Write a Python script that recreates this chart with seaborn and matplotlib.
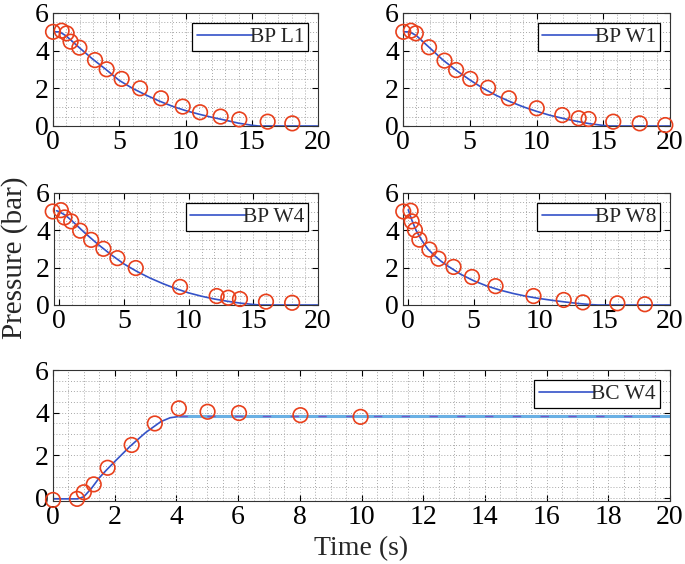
import numpy as np
import pandas as pd
import matplotlib
matplotlib.use("Agg")
import matplotlib.pyplot as plt
from matplotlib.ticker import MultipleLocator
import seaborn as sns

# ---------------- data ----------------
# BP L1
l1_sim_t = [0, 0.5, 1, 2, 3, 4, 5, 6, 7, 8, 9, 10, 11, 12, 13, 14, 15, 15.5, 20]
l1_sim_p = [5.0, 5.0, 4.78, 4.15, 3.55, 3.0, 2.42, 2.0, 1.65, 1.33, 1.05, 0.82, 0.63, 0.46, 0.31, 0.15, 0.04, 0.0, 0.0]
l1_exp_t = [0.0, 0.65, 1.03, 1.33, 1.99, 3.17, 4.05, 5.18, 6.57, 8.15, 9.79, 11.1, 12.65, 14.06, 16.2, 18.06]
l1_exp_p = [5.0, 5.06, 4.92, 4.48, 4.16, 3.5, 3.01, 2.5, 2.0, 1.47, 1.03, 0.73, 0.5, 0.35, 0.23, 0.14]

# BP W1
w1_sim_t = [0, 0.5, 1, 2, 3, 4, 5, 6, 7, 8, 9, 10, 11, 12, 13, 14, 15, 15.5, 20]
w1_sim_p = [5.0, 5.0, 4.8, 4.15, 3.5, 2.95, 2.45, 2.0, 1.62, 1.3, 1.02, 0.78, 0.57, 0.4, 0.25, 0.12, 0.03, 0.0, 0.0]
w1_exp_t = [0.02, 0.59, 0.96, 1.95, 3.11, 3.98, 5.04, 6.37, 7.93, 10.02, 11.93, 13.16, 13.9, 15.75, 17.73, 19.65]
w1_exp_p = [5.0, 5.06, 4.92, 4.18, 3.47, 2.97, 2.5, 2.03, 1.47, 0.94, 0.58, 0.41, 0.37, 0.23, 0.14, 0.05]

# BP W4
w4_sim_t = [-0.2, 0, 0.5, 1, 2, 3, 4, 5, 6, 7, 8, 9, 10, 11, 12, 13, 14, 15, 15.5, 20]
w4_sim_p = [5.05, 5.0, 4.8, 4.5, 3.85, 3.25, 2.7, 2.2, 1.8, 1.45, 1.15, 0.88, 0.65, 0.47, 0.32, 0.2, 0.1, 0.03, 0.0, 0.0]
w4_exp_t = [-0.5, 0.13, 0.41, 0.93, 1.62, 2.47, 3.42, 4.5, 5.92, 9.34, 12.17, 13.07, 13.97, 15.98, 18.0]
w4_exp_p = [5.01, 5.08, 4.69, 4.48, 3.98, 3.49, 3.01, 2.51, 1.98, 0.97, 0.48, 0.39, 0.32, 0.18, 0.12]

# BP W8
w8_sim_t = [0, 0.3, 0.6, 1, 1.5, 2, 2.5, 3, 4, 5, 6, 7, 8, 9, 10, 11, 12, 13, 14, 14.5, 20]
w8_sim_p = [5.1, 4.5, 4.0, 3.5, 3.0, 2.65, 2.35, 2.1, 1.65, 1.3, 1.02, 0.8, 0.62, 0.47, 0.35, 0.25, 0.16, 0.08, 0.02, 0.0, 0.0]
w8_exp_t = [-0.38, 0.18, 0.26, 0.51, 0.85, 1.62, 2.31, 3.46, 4.87, 6.67, 9.57, 11.88, 13.34, 15.98, 18.08]
w8_exp_p = [5.01, 5.05, 4.48, 4.02, 3.5, 2.97, 2.48, 2.04, 1.5, 1.01, 0.48, 0.27, 0.14, 0.09, 0.04]

# BC W4
bc_sim_t = [0, 0.8, 1.0, 1.25, 1.5, 1.75, 2.0, 2.5, 3.0, 3.5, 3.8, 4.1]
bc_sim_p = [-0.05, -0.05, 0.05, 0.45, 0.94, 1.33, 1.7, 2.42, 3.06, 3.58, 3.76, 3.82]
bc_ss_t = [4.1, 20]
bc_ss_p = [3.82, 3.82]
bc_exp_t = [0.0, 0.78, 1.0, 1.32, 1.77, 2.55, 3.30, 4.08, 5.01, 6.03, 8.02, 9.97]
bc_exp_p = [-0.1, -0.05, 0.26, 0.63, 1.41, 2.48, 3.49, 4.2, 4.04, 3.98, 3.88, 3.8]

# tick labels
bp_xticks = [0, 5, 10, 15, 20]
bc_xticks = [0, 2, 4, 6, 8, 10, 12, 14, 16, 18, 20]
p_yticks = [0, 2, 4, 6]

# ---------------- style ----------------
sns.set_style("ticks")
SERIF = ["Liberation Serif", "DejaVu Serif"]
plt.rcParams["font.family"] = SERIF

LINE_C = "#3452c8"
MARK_C = "#e8401c"
W, H = 685, 564
fig = plt.figure(figsize=(W / 100, H / 100), dpi=100)
TICK_FS = 20


def frac(x0, y0, x1, y1):
    return [x0 / W, 1 - y1 / H, (x1 - x0) / W, (y1 - y0) / H]


def style_ax(ax, xlim, ylim, xticks, xmin, yticks, ymin):
    ax.set_xticks(xticks)
    ax.set_xticklabels([str(t) for t in xticks], fontfamily=SERIF, fontsize=TICK_FS)
    ax.set_yticks(yticks)
    ax.set_yticklabels([str(t) for t in yticks], fontfamily=SERIF, fontsize=TICK_FS)
    ax.set_xlim(*xlim)
    ax.set_ylim(*ylim)
    ax.xaxis.set_minor_locator(MultipleLocator(xmin))
    ax.yaxis.set_minor_locator(MultipleLocator(ymin))
    ax.grid(True, which="both", linestyle=(0, (1, 2)), color="#a8a8a8", linewidth=0.7)
    ax.set_axisbelow(True)
    ax.tick_params(which="major", direction="in", top=True, right=True,
                   length=4, width=0.8, pad=3, colors="black")
    ax.tick_params(which="minor", length=0)
    for s in ax.spines.values():
        s.set_color("#333333")
        s.set_linewidth(0.8)
    ax.set_xlabel("")
    ax.set_ylabel("")


def markers(ax, t, p):
    sns.scatterplot(x=t, y=p, ax=ax, marker="o", s=110, facecolor="none",
                    edgecolor=MARK_C, linewidth=1.2, zorder=3, clip_on=False)


def panel(rect, sim_t, sim_p, exp_t, exp_p, label, xlim, ylim):
    ax = fig.add_axes(rect)
    sns.lineplot(x=sim_t, y=sim_p, ax=ax, color=LINE_C, linewidth=1.2,
                 label=label, sort=False, estimator=None)
    markers(ax, exp_t, exp_p)
    style_ax(ax, xlim, ylim, bp_xticks, 1, p_yticks, 0.5)
    return ax


def legend(ax, label):
    h = [l for l in ax.get_lines() if l.get_label() == label]
    leg = ax.legend(handles=h, labels=[label], loc="upper right",
                    frameon=True, fancybox=False, framealpha=1, edgecolor="black",
                    handlelength=2.6, handletextpad=-0.15, borderpad=0.2,
                    borderaxespad=0.45, prop={"family": SERIF, "size": 15.5})
    leg.get_frame().set_linewidth(0.9)
    leg.set_zorder(5)


ax1 = panel(frac(53, 13, 318, 126), l1_sim_t, l1_sim_p, l1_exp_t, l1_exp_p,
            "BP L1", (0, 20), (0, 6))
legend(ax1, "BP L1")
ax2 = panel(frac(403, 13, 670, 126), w1_sim_t, w1_sim_p, w1_exp_t, w1_exp_p,
            "BP W1", (0, 20), (0, 6))
legend(ax2, "BP W1")
ax3 = panel(frac(54, 193, 318, 305), w4_sim_t, w4_sim_p, w4_exp_t, w4_exp_p,
            "BP W4", (-0.4, 20), (0, 6))
legend(ax3, "BP W4")
ax4 = panel(frac(403, 193, 670, 305), w8_sim_t, w8_sim_p, w8_exp_t, w8_exp_p,
            "BP W8", (-0.4, 20), (0, 6))
legend(ax4, "BP W8")

# bottom panel
ax5 = fig.add_axes(frac(53, 370, 670, 501))
sns.lineplot(x=bc_sim_t, y=bc_sim_p, ax=ax5, color=LINE_C, linewidth=1.2,
             label="BC W4", sort=False, estimator=None)
sns.lineplot(x=bc_ss_t, y=bc_ss_p, ax=ax5, color="#6ab0e4", linewidth=2.2,
             sort=False, estimator=None)
sns.lineplot(x=bc_ss_t, y=bc_ss_p, ax=ax5, color="#7457c4", linewidth=1.0,
             linestyle=(0, (6, 14)), sort=False, estimator=None)
markers(ax5, bc_exp_t, bc_exp_p)
style_ax(ax5, (0, 20), (-0.15, 6.0), bc_xticks, 0.5, p_yticks, 0.5)
legend(ax5, "BC W4")
ax5.set_xlabel("Time (s)", fontsize=20, labelpad=4, fontfamily=SERIF)

fig.text(15 / W, 1 - 258 / H, "Pressure (bar)", rotation=90, fontsize=21,
         ha="center", va="center", fontfamily=SERIF)

fig.savefig("out.png", dpi=100)
